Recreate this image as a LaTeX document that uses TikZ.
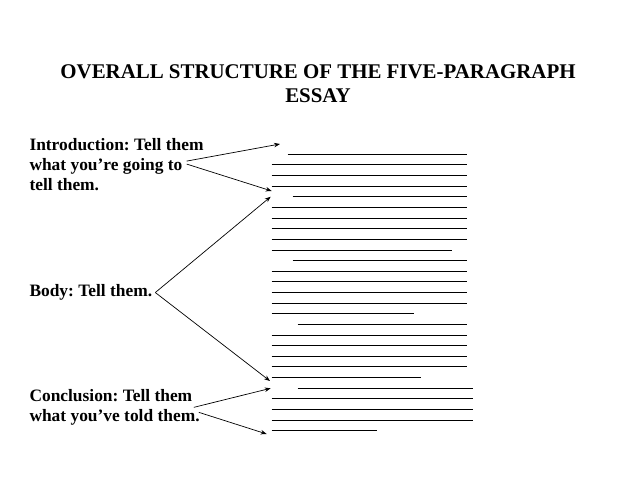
\documentclass[tikz,border=0pt]{standalone}
\usepackage{fontspec}
\setmainfont{Liberation Serif}
\frenchspacing
\usetikzlibrary{positioning}
\usetikzlibrary{arrows.meta}
\begin{document}
\begin{tikzpicture}[x=1pt,y=-1pt]
% définition des paramètres
\tikzstyle titremichael=[font=\fontsize{20.9}{24.3}\selectfont\bfseries,inner sep=0pt,anchor=base]
\tikzstyle textemichael=[font=\fontsize{17.4}{20}\selectfont\bfseries,inner sep=0pt,align=left,anchor=base west]
\tikzstyle lignemichael=[color=black,line width=0.9pt]
\tikzstyle flechemichael=[color=black,line width=0.7pt,-{Stealth[length=6pt,width=4.5pt]}]
\newcommand{\lignehaut}{154.3}  % ordonnée de la première ligne
\newcommand{\interligne}{10.63} % écart entre deux lignes
\useasboundingbox (0,0) rectangle (638,479);
% le titre
\node[titremichael] (titre) at (318,78) {OVERALL STRUCTURE OF THE FIVE-PARAGRAPH};
\node[titremichael] (titresuite) at (318,102.3) {ESSAY};
% les textes (ancre sur la dernière ligne)
\node[textemichael] (intro) at (29.3,190) {Introduction: Tell them\\what you’re going to\\tell them.};
\node[textemichael] (corps) at (29.3,296.7) {Body: Tell them.};
\node[textemichael] (concl) at (29.3,421.5) {Conclusion: Tell them\\what you’ve told them.};
% les lignes du texte
\foreach \k/\xa/\xb in {1/287.7/467.3,2/271.7/467.3,3/271.7/467.3,4/271.7/467.3,
  5/292.7/467.3,6/271.7/467.3,7/271.7/467.3,8/271.7/467.3,9/271.7/467.3,
  10/271.7/451.7,11/292.7/467.3,12/271.7/467.3,13/271.7/467.3,14/271.7/467.3,
  15/271.7/467.3,16/271.7/414.3,17/297.7/467.3,18/271.7/467.3,19/271.7/467.3,
  20/271.7/467.3,21/271.7/467.3,22/271.7/420.7,23/297.7/473.3,24/271.7/473.3,
  25/271.7/473.3,26/271.7/473.3,27/271.7/377.3}
    \draw[lignemichael] (\xa,{\lignehaut+(\k-1)*\interligne}) -- (\xb,{\lignehaut+(\k-1)*\interligne});
% les pointes des flèches
\coordinate (introA) at (280,144);
\coordinate (introB) at (271.7,191);
\coordinate (corpsA) at (270.7,196.7);
\coordinate (corpsB) at (270,381);
\coordinate (conclA) at (270.7,388.3);
\coordinate (conclB) at (266.7,434);
% les flèches
\draw[flechemichael] ([xshift=-17pt,yshift=3pt]intro.east) -- (introA);
\draw[flechemichael] ([xshift=-17pt]intro.east) -- (introB);
\draw[flechemichael] ([xshift=3pt]corps.east) -- (corpsA);
\draw[flechemichael] ([xshift=3pt]corps.east) -- (corpsB);
\draw[flechemichael] ([xshift=-6pt]concl.east) -- (conclA);
\draw[flechemichael] ([xshift=-1pt,yshift=-5pt]concl.east) -- (conclB);
\end{tikzpicture}
\end{document}
